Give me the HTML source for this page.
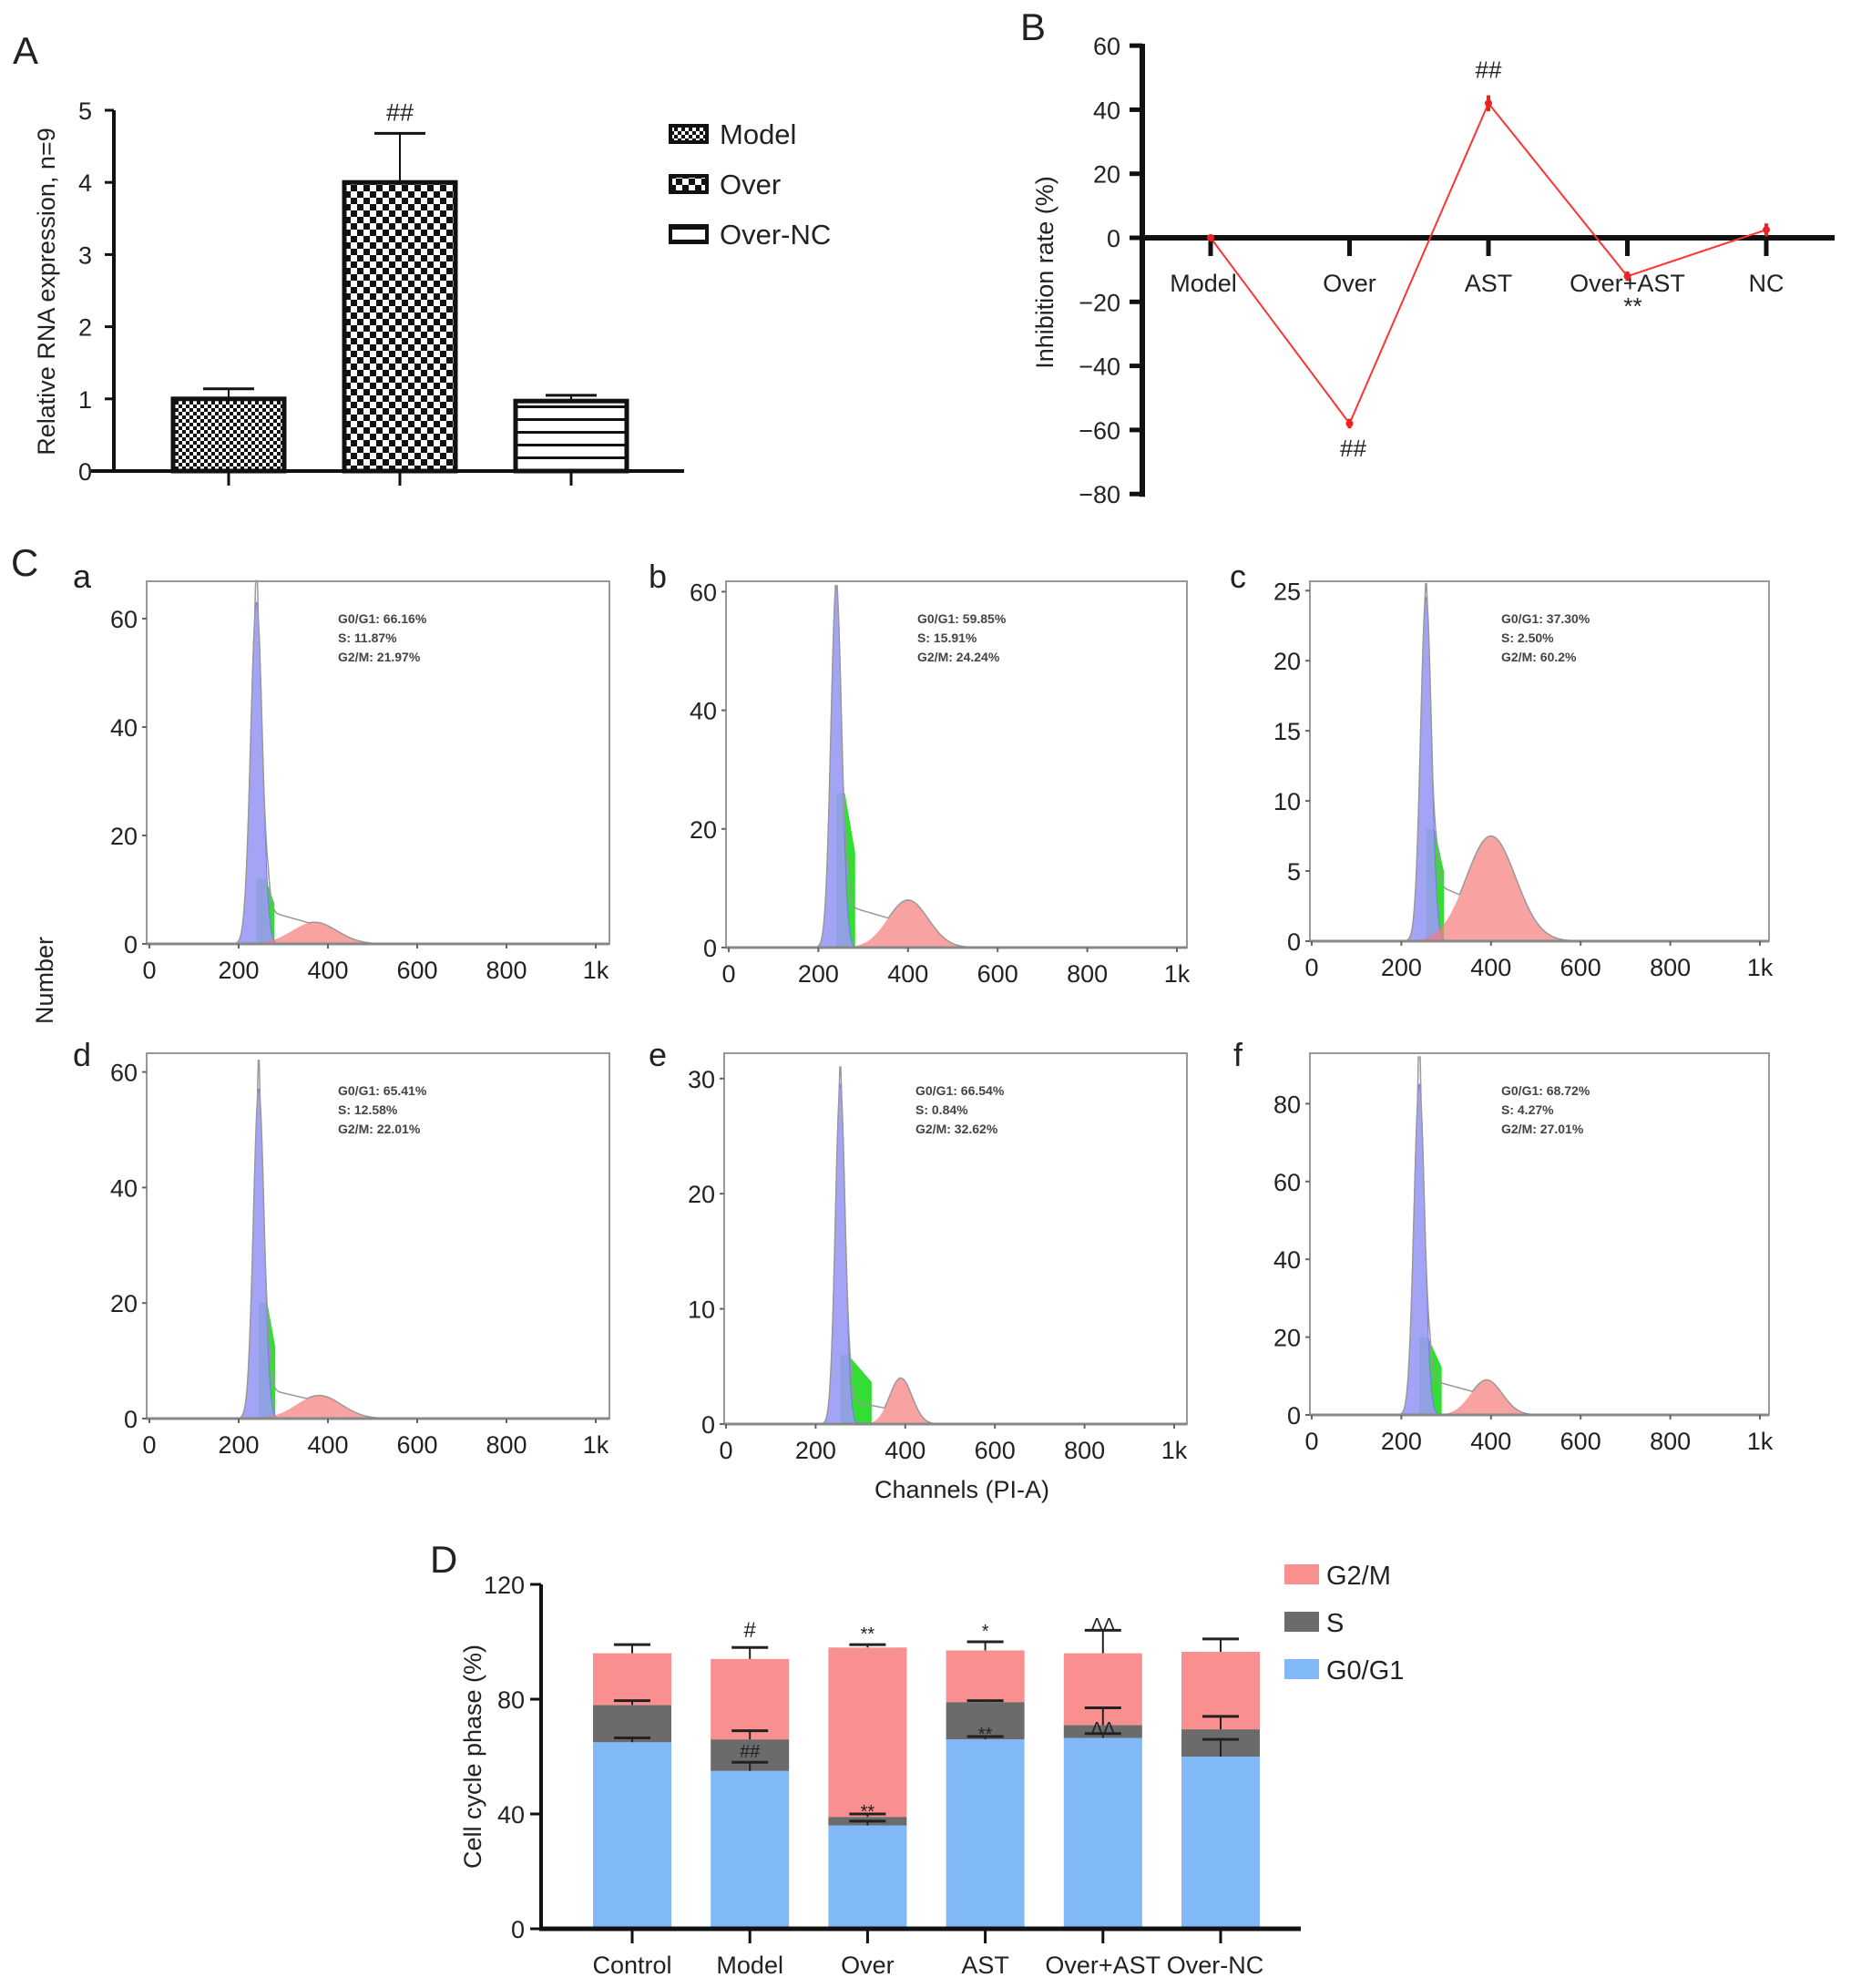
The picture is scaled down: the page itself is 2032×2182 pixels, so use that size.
<!DOCTYPE html>
<html><head><meta charset="utf-8"><style>
html,body{margin:0;padding:0;background:#fff}
svg{display:block}
text{font-family:"Liberation Sans",sans-serif;fill:#222}
</style></head><body>
<svg id="fig" width="2032" height="2182" viewBox="0 0 2032 2182" xmlns="http://www.w3.org/2000/svg">
<defs>
<pattern id="patModel" width="8" height="8" patternUnits="userSpaceOnUse"><rect width="8" height="8" fill="#fff"/><rect width="4" height="4" fill="#111"/><rect x="4" y="4" width="4" height="4" fill="#111"/></pattern>
<pattern id="patOver" width="14" height="14" patternUnits="userSpaceOnUse"><rect width="14" height="14" fill="#fff"/><rect width="7" height="7" fill="#111"/><rect x="7" y="7" width="7" height="7" fill="#111"/></pattern>
<pattern id="patNC" width="10" height="14" patternUnits="userSpaceOnUse"><rect width="10" height="14" fill="#fff"/><rect y="11" width="10" height="3" fill="#111"/></pattern>
</defs>
<g id="root"></g>
</svg>
<script>
// ---------- Panel A data ----------
const aCats = ["Model","Over","Over-NC"];
const aVals = [1.0, 4.0, 0.97];
const aErr = [0.14, 0.68, 0.08];
const aTicks = [0,1,2,3,4,5];
// ---------- Panel B data ----------
const bCats = ["Model","Over","AST","Over+AST","NC"];
const bVals = [0, -58, 42, -12, 2.5];
const bErr = [1, 1.5, 2.5, 1.5, 2];
const bTicks = [60,40,20,0,-20,-40,-60,-80];
// ---------- Panel C data (histogram component parameters) ----------
const cNames = ["a","b","c","d","e","f"];
const cG1Mean = [240, 240, 255, 245, 255, 240];
const cG1Height = [63, 61, 24.5, 57, 29.5, 85];
const cG1Sd = [13, 12, 12, 12, 11, 12];
const cSHeight = [12, 26, 8, 20, 6, 20];
const cSEnd = [280, 282, 295, 282, 325, 290];
const cPlateau = [6, 7, 4, 5, 2, 9];
const cG2Mean = [370, 400, 400, 380, 390, 390];
const cG2Height = [4, 8, 7.5, 4, 4, 9];
const cG2Sd = [50, 45, 55, 50, 25, 35];
const cMax = [67, 61, 25.5, 62, 31, 92];
const cTicks = [[0,20,40,60],[0,20,40,60],[0,5,10,15,20,25],[0,20,40,60],[0,10,20,30],[0,20,40,60,80]];
const cText = [["G0/G1: 66.16%","S: 11.87%","G2/M: 21.97%"],["G0/G1: 59.85%","S: 15.91%","G2/M: 24.24%"],["G0/G1: 37.30%","S: 2.50%","G2/M: 60.2%"],["G0/G1: 65.41%","S: 12.58%","G2/M: 22.01%"],["G0/G1: 66.54%","S: 0.84%","G2/M: 32.62%"],["G0/G1: 68.72%","S: 4.27%","G2/M: 27.01%"]];
const xTickLabels = ["0","200","400","600","800","1k"];
// ---------- Panel D data ----------
const dCats = ["Control","Model","Over","AST","Over+AST","Over-NC"];
const dG1 = [65, 55, 36, 66, 66.5, 60];
const dS = [13, 11, 3, 13, 4.5, 9.5];
const dG2 = [18, 28, 59, 18, 25, 27];
const dG1Err = [1.5, 3, 1.5, 1, 1.5, 6];
const dSErr = [1.5, 3, 1, 0.5, 6, 4.5];
const dG2Err = [3, 4, 1, 3, 8, 4.5];
const dTicks = [0,40,80,120];

const NS="http://www.w3.org/2000/svg";
const root=document.getElementById('root');
function el(tag,attrs,parent){const e=document.createElementNS(NS,tag);for(const k in attrs)e.setAttribute(k,attrs[k]);(parent||root).appendChild(e);return e;}
function txt(s,x,y,size,anchor,parent,extra){const t=el('text',Object.assign({x:x,y:y,'font-size':size,'text-anchor':anchor||'start'},extra||{}),parent);t.textContent=s;return t;}

// ================= Panel A =================
(function(){
  const g=el('g',{});  
  const t=txt("A",14,70,42,'start',g);  
  const x0=125, y0=517, yTop=121; const ys=v=>y0-(y0-yTop)*v/5;
  el('line',{x1:x0,y1:y0+2,x2:x0,y2:yTop,stroke:'#111','stroke-width':4},g);
  el('line',{x1:100,y1:y0,x2:751,y2:y0,stroke:'#111','stroke-width':4},g);
  aTicks.forEach(v=>{el('line',{x1:x0-10,y1:ys(v),x2:x0,y2:ys(v),stroke:'#111','stroke-width':3},g);
    const l=txt(String(v),x0-24,ys(v)+10,27,'end',g);  });
  const yt=txt("Relative RNA expression, n=9",0,0,27,'middle',g,{transform:'translate(60,320) rotate(-90)'});
   
  const pats=['url(#patModel)','url(#patOver)','url(#patNC)'];
  const cx=[251,439,627], w=122;
  aVals.forEach((v,i)=>{
    const r=el('rect',{x:cx[i]-w/2,y:ys(v),width:w,height:y0-ys(v),fill:pats[i],stroke:'#111','stroke-width':5},g);
     
    el('line',{x1:cx[i],y1:ys(v),x2:cx[i],y2:ys(v+aErr[i]),stroke:'#111','stroke-width':2},g);
    el('line',{x1:cx[i]-28,y1:ys(v+aErr[i]),x2:cx[i]+28,y2:ys(v+aErr[i]),stroke:'#111','stroke-width':3},g);
    el('line',{x1:cx[i],y1:y0,x2:cx[i],y2:y0+16,stroke:'#111','stroke-width':3},g);
  });
  const s=txt("##",cx[1],ys(aVals[1]+aErr[1])-14,27,'middle',g);  
  aCats.forEach((c,i)=>{const yy=147+i*55;
    const lg=el('g',{},g);  
    el('rect',{x:736,y:yy-9,width:40,height:18,fill:pats[i],stroke:'#111','stroke-width':4},lg);
    txt(c,790,yy+11,31,'start',lg);});
})();

// ================= Panel B =================
(function(){
  const g=el('g',{});  
  const t=txt("B",1120,44,42,'start',g);  
  const x0=1254, yZero=261, per=70.3/20; const ys=v=>yZero-v*per;
  el('line',{x1:x0,y1:ys(60)-2,x2:x0,y2:ys(-80)+3,stroke:'#111','stroke-width':6},g);
  el('line',{x1:x0,y1:yZero,x2:2014,y2:yZero,stroke:'#111','stroke-width':6},g);
  bTicks.forEach(v=>{el('line',{x1:x0-14,y1:ys(v),x2:x0,y2:ys(v),stroke:'#111','stroke-width':5},g);
    const l=txt(v<0?'\u2212'+(-v):String(v),x0-24,ys(v)+10,27,'end',g);  });
  const yt=txt("Inhibition rate (%)",0,0,27,'middle',g,{transform:'translate(1156,299) rotate(-90)'});
   
  const xs=i=>1329+i*152.5;
  bCats.forEach((c,i)=>{el('line',{x1:xs(i),y1:yZero,x2:xs(i),y2:yZero+20,stroke:'#111','stroke-width':5},g);
    const l=txt(c,xs(i)-(i==0?8:0),320,27,'middle',g);  });
  const pts=bVals.map((v,i)=>xs(i)+','+ys(v)).join(' ');
  const pl=el('polyline',{points:pts,fill:'none',stroke:'#f33','stroke-width':2},g);
   
  bVals.forEach((v,i)=>{
    const c=el('circle',{cx:xs(i),cy:ys(v),r:4,fill:'#e22'},g);  
    el('line',{x1:xs(i),y1:ys(v-bErr[i]),x2:xs(i),y2:ys(v+bErr[i]),stroke:'#e22','stroke-width':4},g);
  });
  const m1=txt("##",xs(2),ys(bVals[2])-28,26,'middle',g);  
  const m2=txt("##",xs(1)+4,ys(bVals[1])+36,26,'middle',g);  
  const m3=txt("**",xs(3)+6,345,26,'middle',g);  
})();

// ================= Panel C =================
const cLayout=[
 {x0:164,x1k:654,left:161,right:669,top:638,zero:1036,unit:5.95,lx:80,ly:645},
 {x0:800,x1k:1292,left:797,right:1303,top:638,zero:1040,unit:6.51,lx:712,ly:645},
 {x0:1440,x1k:1932,left:1438,right:1942,top:638,zero:1033,unit:15.39,lx:1350,ly:645},
 {x0:164,x1k:654,left:161,right:669,top:1156,zero:1557,unit:6.34,lx:80,ly:1170},
 {x0:797,x1k:1289,left:795,right:1303,top:1156,zero:1563,unit:12.64,lx:712,ly:1170},
 {x0:1440,x1k:1932,left:1438,right:1942,top:1156,zero:1553,unit:4.27,lx:1354,ly:1170}];
(function(){
  const tc=txt("C",12,632,42,'start');  
  cNames.forEach((n,k)=>{
    const L=cLayout[k];
    const g=el('g',{});  
    const xs=c=>L.x0+(L.x1k-L.x0)*c/1000; const ys=v=>L.zero-v*L.unit;
    const lab=txt(n,L.lx,L.ly,36,'start',g);  
    el('rect',{x:L.left,y:L.top,width:L.right-L.left,height:L.zero-L.top,fill:'none',stroke:'#999','stroke-width':2},g);
    const gauss=(c,m,h,s)=>h*Math.exp(-0.5*((c-m)/s)**2);
    const st=cG1Mean[k]+cG1Sd[k]*1.6;
    const sComp=c=>{if(c<cG1Mean[k]||c>cSEnd[k])return 0; return cSHeight[k]*(1-0.4*Math.max(0,(c-st))/(cSEnd[k]-st+1));};
    // green S
    let p='M'+xs(cG1Mean[k])+','+ys(0);
    for(let c=cG1Mean[k];c<=cSEnd[k];c+=1)p+=' L'+xs(c)+','+ys(sComp(c));
    p+=' L'+xs(cSEnd[k])+','+ys(0)+'Z';
    const gs=el('path',{d:p,fill:'#33dd33'},g);  
    // blue G1
    p='M'+xs(cG1Mean[k]-4*cG1Sd[k])+','+ys(0);
    for(let c=cG1Mean[k]-4*cG1Sd[k];c<=cG1Mean[k]+4*cG1Sd[k];c+=1)p+=' L'+xs(c)+','+ys(gauss(c,cG1Mean[k],cG1Height[k],cG1Sd[k]));
    p+='Z';
    const gb=el('path',{d:p,fill:'#9a9af5','fill-opacity':0.9,stroke:'#7777ee','stroke-width':1},g);  
    // red G2
    p='M'+xs(cG2Mean[k]-4*cG2Sd[k])+','+ys(0);
    for(let c=cG2Mean[k]-4*cG2Sd[k];c<=cG2Mean[k]+4*cG2Sd[k];c+=2)p+=' L'+xs(c)+','+ys(gauss(c,cG2Mean[k],cG2Height[k],cG2Sd[k]));
    p+='Z';
    const gr=el('path',{d:p,fill:'#f57a7a','fill-opacity':0.7},g);  
    // grey trace
    p='';
    const pStart=cG1Mean[k]+2*cG1Sd[k], pEnd=cG2Mean[k]+cG2Sd[k]*0.5;
    for(let c=150;c<=650;c+=2){
      let plat=0; if(c>pStart-10&&c<pEnd){plat=cPlateau[k]*Math.min(1,(c-pStart+10)/10)*(1-0.5*(c-pStart)/(pEnd-pStart));}
      let v=Math.max(gauss(c,cG1Mean[k],cG1Height[k],cG1Sd[k]), 0)+gauss(c,cG2Mean[k],cG2Height[k],cG2Sd[k]);
      v=Math.max(v,plat+gauss(c,cG1Mean[k],cG1Height[k],cG1Sd[k]));
      if(Math.abs(c-cG1Mean[k])<3)v=Math.max(v,cMax[k]); p+=(p?' L':'M')+xs(c)+','+ys(v);}
    const gt=el('path',{d:p,fill:'none',stroke:'#999','stroke-width':1.5},g);  
    // axes
    el('line',{x1:L.left,y1:L.zero,x2:L.right,y2:L.zero,stroke:'#888','stroke-width':3},g);
    xTickLabels.forEach((s,i)=>{const x=xs(i*200);
      el('line',{x1:x,y1:L.zero,x2:x,y2:L.zero+5,stroke:'#666','stroke-width':2},g);
      const l=txt(s,x,L.zero+38,27,'middle',g);  });
    cTicks[k].forEach(v=>{el('line',{x1:L.left-5,y1:ys(v),x2:L.left,y2:ys(v),stroke:'#666','stroke-width':2},g);
      const l=txt(String(v),L.left-10,ys(v)+10,27,'end',g);  });
    cText[k].forEach((s,i)=>{const l=txt(s,L.left+210,L.top+46+i*21,14,'start',g,{style:'fill:#444;font-weight:bold'});  });
  });
  const nt=txt("Number",0,0,27,'middle',null,{transform:'translate(58,1076) rotate(-90)'});  
  const ct=txt("Channels (PI-A)",1056,1644,27,'middle');  
})();

// ================= Panel D =================
(function(){
  const g=el('g',{});  
  const t=txt("D",472,1726,42,'start',g);  
  const x0=594, y0=2117, per=126/40; const ys=v=>y0-v*per;
  el('line',{x1:x0,y1:y0,x2:x0,y2:ys(120),stroke:'#111','stroke-width':4},g);
  dTicks.forEach(v=>{el('line',{x1:x0-12,y1:ys(v),x2:x0,y2:ys(v),stroke:'#111','stroke-width':3},g);
    const l=txt(String(v),x0-18,ys(v)+10,27,'end',g);  });
  const yt=txt("Cell cycle phase (%)",0,0,27,'middle',g,{transform:'translate(528,1928) rotate(-90)'});  
  const xs=i=>694+i*129.2, w=86;
  const cols=['#80b8f8','#6b6b6b','#f98f8f'];
  dCats.forEach((c,i)=>{
    const segs=[dG1[i],dS[i],dG2[i]], errs=[dG1Err[i],dSErr[i],dG2Err[i]], nm=['g0g1','s','g2m'];
    let base=0;
    segs.forEach((v,j)=>{const r=el('rect',{x:xs(i)-w/2,y:ys(base+v),width:w,height:v*per,fill:cols[j]},g);
        base+=v;});
    base=0;
    segs.forEach((v,j)=>{base+=v; const top=ys(base+errs[j]);
      el('line',{x1:xs(i),y1:ys(base),x2:xs(i),y2:top,stroke:'#222','stroke-width':2},g);
      el('line',{x1:xs(i)-20,y1:top,x2:xs(i)+20,y2:top,stroke:'#222','stroke-width':3},g);});
    el('line',{x1:xs(i),y1:y0,x2:xs(i),y2:y0+16,stroke:'#111','stroke-width':3},g);
    const l=txt(c,xs(i)-(i==5?6:0),2166,27,'middle',g);  
  });
  el('line',{x1:x0-2,y1:y0,x2:1428,y2:y0,stroke:'#111','stroke-width':5},g);
  const marks=[[1,"#",1797,24],[2,"**",1800,20],[3,"*",1797,20],[4,"\u0394\u0394",1790,20],[1,"##",1929,20],[2,"**",1995,20],[3,"**",1910,20],[4,"\u0394\u0394",1904,20]];
  marks.forEach(m=>{const l=txt(m[1],xs(m[0]),m[2],m[3],'middle',g);  });
  const lg=["G2/M","S","G0/G1"], lc=[cols[2],cols[1],cols[0]];
  lg.forEach((s,i)=>{const yy=1728+i*52;
    const e=el('g',{},g);  
    el('rect',{x:1410,y:yy-11,width:38,height:22,fill:lc[i]},e);
    txt(s,1456,yy+11,29,'start',e);});
})();
</script>
</body></html>
